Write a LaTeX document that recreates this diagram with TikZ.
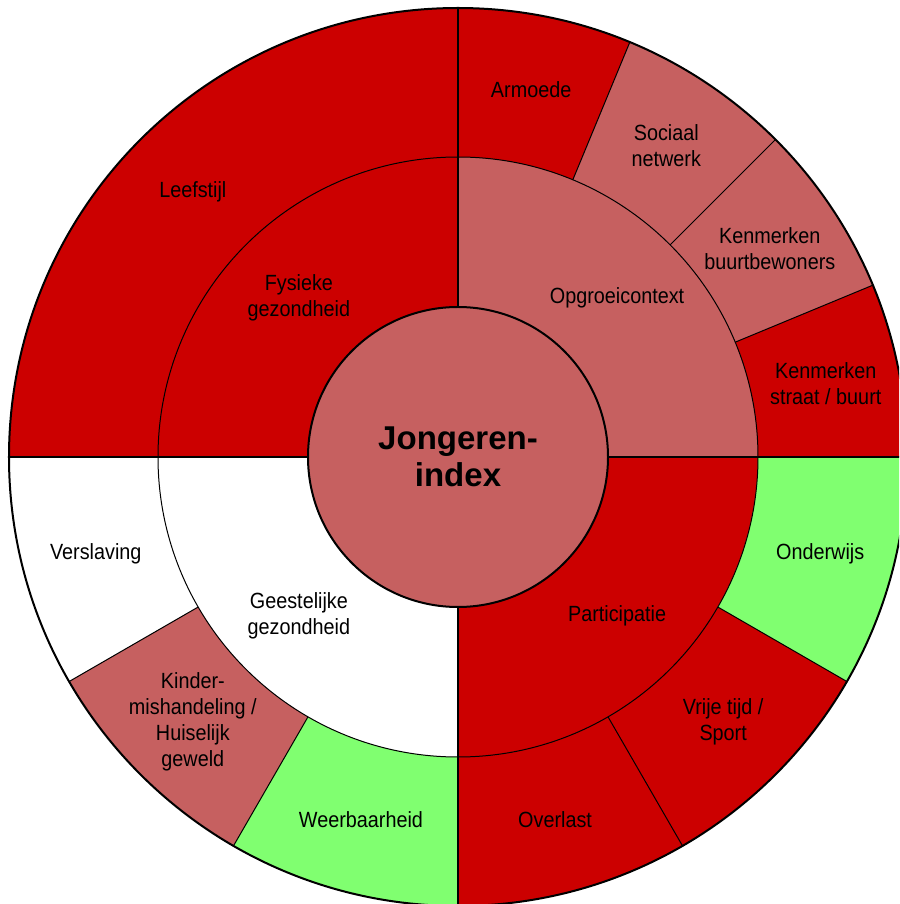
\documentclass[tikz,border=0pt]{standalone}
\usepackage{fontspec}
\setmainfont[FakeStretch=0.9]{Liberation Sans}
\newfontfamily\titlefont{Liberation Sans}
\definecolor{dred}{HTML}{CC0000}
\definecolor{mred}{HTML}{C66060}
\definecolor{lgreen}{HTML}{80FF70}
\newcommand\annsector[5]{% colour, start angle, end angle, inner radius, outer radius
  \fill[#1] (#2:#4) arc[start angle=#2, end angle=#3, radius=#4] -- (#3:#5)
    arc[start angle=#3, end angle=#2, radius=#5] -- cycle;}
\tikzset{
  lbl/.style={font=\fontsize{22}{26}\selectfont, align=center, text=black, inner sep=0pt},
  thinline/.style={line width=1pt, draw=black},
  thickline/.style={line width=2pt, draw=black},
  titlelbl/.style={font=\titlefont\bfseries\fontsize{33}{37}\selectfont, align=center, text=black, inner sep=0pt},
}
\begin{document}
\begin{tikzpicture}
\useasboundingbox (-458pt,-447pt) rectangle (441pt,457pt);
\clip (-458pt,-447pt) rectangle (441pt,457pt);
\fill[white] (-458pt,-447pt) rectangle (441pt,457pt);
% inner ring
\annsector{dred}{90}{180}{150pt}{300pt}
\annsector{mred}{0}{90}{150pt}{300pt}
\annsector{dred}{-90}{0}{150pt}{300pt}
\annsector{white}{180}{270}{150pt}{300pt}
% outer ring
\annsector{dred}{90}{180}{300pt}{449pt}
\annsector{dred}{67.5}{90}{300pt}{449pt}
\annsector{mred}{45}{67.5}{300pt}{449pt}
\annsector{mred}{22.5}{45}{300pt}{449pt}
\annsector{dred}{0}{22.5}{300pt}{449pt}
\annsector{lgreen}{-30}{0}{300pt}{449pt}
\annsector{dred}{-60}{-30}{300pt}{449pt}
\annsector{dred}{-90}{-60}{300pt}{449pt}
\annsector{white}{180}{210}{300pt}{449pt}
\annsector{mred}{210}{240}{300pt}{449pt}
\annsector{lgreen}{240}{270}{300pt}{449pt}
% thin lines
\foreach \a in {67.5,45,22.5,-30,-60,210,240}
  \draw[thinline] (\a:300pt) -- (\a:449pt);
\draw[thinline] (0,0) circle[radius=300pt];
% thick lines
\draw[thickline] (-449pt,0) -- (449pt,0);
\draw[thickline] (0,-449pt) -- (0,449pt);
\draw[thickline] (0,0) circle[radius=449pt];
\draw[thickline, fill=mred] (0,0) circle[radius=150pt];
% labels
\node[titlelbl] (center) at (0,0) {Jongeren-\\index};
\node[lbl] (fysiek) at (135:225pt) {Fysieke\\gezondheid};
\node[lbl] (opgroei) at (45:225pt) {Opgroeicontext};
\node[lbl] (particip) at (-45:225pt) {Participatie};
\node[lbl] (geest) at (225:225pt) {Geestelijke\\gezondheid};
\node[lbl] (leefstijl) at (135:375pt) {Leefstijl};
\node[lbl] (armoede) at (78.75:375pt) {Armoede};
\node[lbl] (sociaal) at (56.25:375pt) {Sociaal\\netwerk};
\node[lbl] (buurtbew) at (33.75:375pt) {Kenmerken\\buurtbewoners};
\node[lbl] (straat) at (11.25:375pt) {Kenmerken\\straat / buurt};
\node[lbl] (onderwijs) at (-15:375pt) {Onderwijs};
\node[lbl] (vrijetijd) at (-45:375pt) {Vrije tijd /\\Sport};
\node[lbl] (overlast) at (-75:375pt) {Overlast};
\node[lbl] (verslaving) at (195:375pt) {Verslaving};
\node[lbl] (kinder) at (225:375pt) {Kinder-\\mishandeling /\\Huiselijk\\geweld};
\node[lbl] (weerbaar) at (255:375pt) {Weerbaarheid};
\end{tikzpicture}
\end{document}
